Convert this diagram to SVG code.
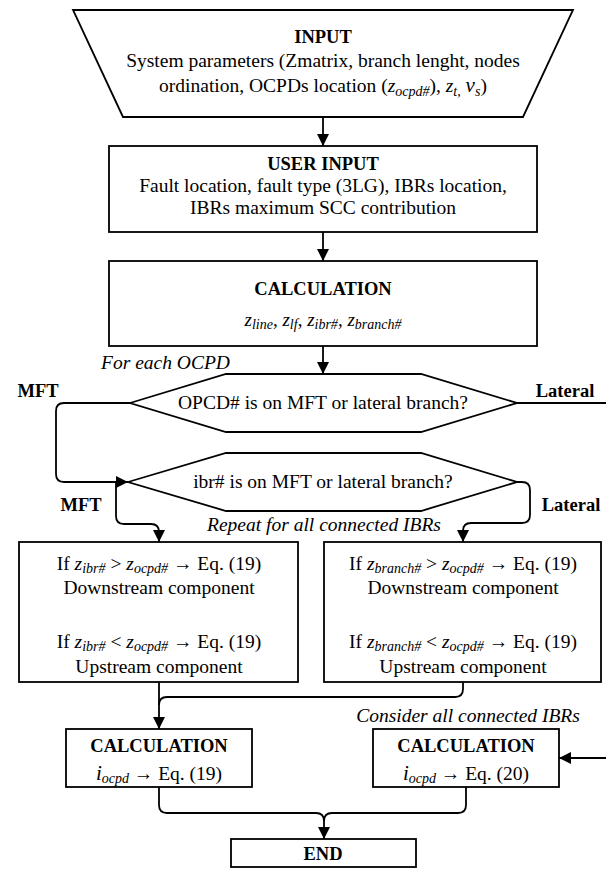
<svg xmlns="http://www.w3.org/2000/svg" width="606" height="869" viewBox="0 0 606 869">
<style>
text { font-family: "Liberation Serif", "Times New Roman", "DejaVu Serif", serif; fill: #000; text-anchor: middle; }
.t { font-size: 19.5px; }
.b { font-size: 18.5px; font-weight: bold; }
.i { font-style: italic; }
.sub { font-size: 14px; font-style: italic; }
.shape { fill: #fff; stroke: #000; stroke-width: 1.8; }
.conn path { fill: none; stroke: #000; stroke-width: 1.8; }
</style>
<defs>
<marker id="ah" markerWidth="12" markerHeight="12" refX="12" refY="6" orient="auto" markerUnits="userSpaceOnUse">
<path d="M0,0 L12,6 L0,12 z" fill="#000"/>
</marker>
</defs>
<rect width="606" height="869" fill="#fff"/>

<g class="conn">
<path d="M323,117 V146" marker-end="url(#ah)"/>
<path d="M323,232 V261" marker-end="url(#ah)"/>
<path d="M323,346 V374" marker-end="url(#ah)"/>
<path d="M130,403 H64 Q56,403 56,411 V474 Q56,482 64,482 H128" marker-end="url(#ah)"/>
<path d="M517,403 H612 V758 H559" marker-end="url(#ah)"/>
<path d="M116,482 V516 Q116,524 124,524 H151 Q159,524 159,532 V542" marker-end="url(#ah)"/>
<path d="M517,482 H522 Q530,482 530,490 V515 Q530,523 522,523 H471 Q463,523 463,531 V542" marker-end="url(#ah)"/>
<path d="M159,682 V729" marker-end="url(#ah)"/>
<path d="M463,682 V689 Q463,697 455,697 H167 Q159,697 159,705"/>
<path d="M159,787 V805 Q159,813 167,813 H316 Q324,813 324,821 V839" marker-end="url(#ah)"/>
<path d="M466,787 V805 Q466,813 458,813 H332 Q324,813 324,821"/>
</g>

<g id="input">
<polygon class="shape" points="73,10 573,10 523,117 123,117"/>
<text x="323" y="43" class="b">INPUT</text>
<text x="323" y="67" class="t">System parameters (Zmatrix, branch lenght, nodes</text>
<text x="323" y="92" class="t">ordination, OCPDs location (<tspan class="i">z</tspan><tspan class="sub" dy="4">ocpd#</tspan><tspan dy="-4">), </tspan><tspan class="i">z</tspan><tspan class="sub" dy="4">t,</tspan><tspan dy="-4"> </tspan><tspan class="i" font-size="21">v</tspan><tspan class="sub" dy="4">s</tspan><tspan dy="-4">)</tspan></text>
</g>

<g id="user-input">
<rect class="shape" x="109" y="146" width="428" height="86"/>
<text x="323" y="170" class="b">USER INPUT</text>
<text x="323" y="192" class="t">Fault location, fault type (3LG), IBRs location,</text>
<text x="323" y="214" class="t">IBRs maximum SCC contribution</text>
</g>

<g id="calculation-1">
<rect class="shape" x="109" y="261" width="428" height="85"/>
<text x="323" y="295" class="b">CALCULATION</text>
<text x="323" y="326" font-size="19" class="i">z<tspan class="sub" font-size="15" dy="3">line</tspan><tspan dy="-3" font-style="normal">, </tspan>z<tspan class="sub" font-size="15" dy="3">lf</tspan><tspan dy="-3" font-style="normal">, </tspan>z<tspan class="sub" font-size="15" dy="3">ibr#</tspan><tspan dy="-3" font-style="normal">, </tspan>z<tspan class="sub" font-size="15" dy="3">branch#</tspan></text>
</g>

<text x="101" y="369" class="t i" style="text-anchor:start" font-size="18">For each OCPD</text>

<g id="decision-ocpd">
<polygon class="shape" points="130,403 226,374 421,374 517,403 421,432 226,432"/>
<text x="323" y="409" class="t">OPCD# is on MFT or lateral branch?</text>
</g>
<text x="38" y="397" class="b">MFT</text>
<text x="565" y="397" class="b">Lateral</text>

<g id="decision-ibr">
<polygon class="shape" points="128,482 226,453 421,453 517,482 421,511 226,511"/>
<text x="323" y="488" class="t">ibr# is on MFT or lateral branch?</text>
</g>
<text x="81" y="511" class="b">MFT</text>
<text x="571" y="511" class="b">Lateral</text>
<text x="324" y="531" class="t i" font-size="18">Repeat for all connected IBRs</text>

<g id="mft-components">
<rect class="shape" x="19" y="542" width="279" height="140"/>
<text x="159" y="570" class="t">If <tspan class="i">z</tspan><tspan class="sub" dy="3">ibr#</tspan><tspan dy="-3"> &gt; </tspan><tspan class="i">z</tspan><tspan class="sub" dy="3">ocpd#</tspan><tspan dy="-3"> → Eq. (19)</tspan></text>
<text x="159" y="594" class="t">Downstream component</text>
<text x="159" y="648" class="t">If <tspan class="i">z</tspan><tspan class="sub" dy="3">ibr#</tspan><tspan dy="-3"> &lt; </tspan><tspan class="i">z</tspan><tspan class="sub" dy="3">ocpd#</tspan><tspan dy="-3"> → Eq. (19)</tspan></text>
<text x="159" y="673" class="t">Upstream component</text>
</g>

<g id="lateral-components">
<rect class="shape" x="324" y="542" width="277" height="140"/>
<text x="463" y="570" class="t">If <tspan class="i">z</tspan><tspan class="sub" dy="3">branch#</tspan><tspan dy="-3"> &gt; </tspan><tspan class="i">z</tspan><tspan class="sub" dy="3">ocpd#</tspan><tspan dy="-3"> → Eq. (19)</tspan></text>
<text x="463" y="594" class="t">Downstream component</text>
<text x="463" y="648" class="t">If <tspan class="i">z</tspan><tspan class="sub" dy="3">branch#</tspan><tspan dy="-3"> &lt; </tspan><tspan class="i">z</tspan><tspan class="sub" dy="3">ocpd#</tspan><tspan dy="-3"> → Eq. (19)</tspan></text>
<text x="463" y="673" class="t">Upstream component</text>
</g>

<text x="468" y="722" class="t i" font-size="18">Consider all connected IBRs</text>

<g id="calculation-19">
<rect class="shape" x="66" y="729" width="186" height="58"/>
<text x="159" y="752" class="b">CALCULATION</text>
<text x="159" y="780" class="t"><tspan class="i" font-size="21">i</tspan><tspan class="sub" dy="3" font-size="16">ocpd</tspan><tspan dy="-3"> → Eq. (19)</tspan></text>
</g>

<g id="calculation-20">
<rect class="shape" x="373" y="729" width="186" height="58"/>
<text x="466" y="752" class="b">CALCULATION</text>
<text x="466" y="780" class="t"><tspan class="i" font-size="21">i</tspan><tspan class="sub" dy="3" font-size="16">ocpd</tspan><tspan dy="-3"> → Eq. (20)</tspan></text>
</g>

<g id="end">
<rect class="shape" x="231" y="839" width="185" height="28"/>
<text x="323" y="860" class="b">END</text>
</g>
</svg>
